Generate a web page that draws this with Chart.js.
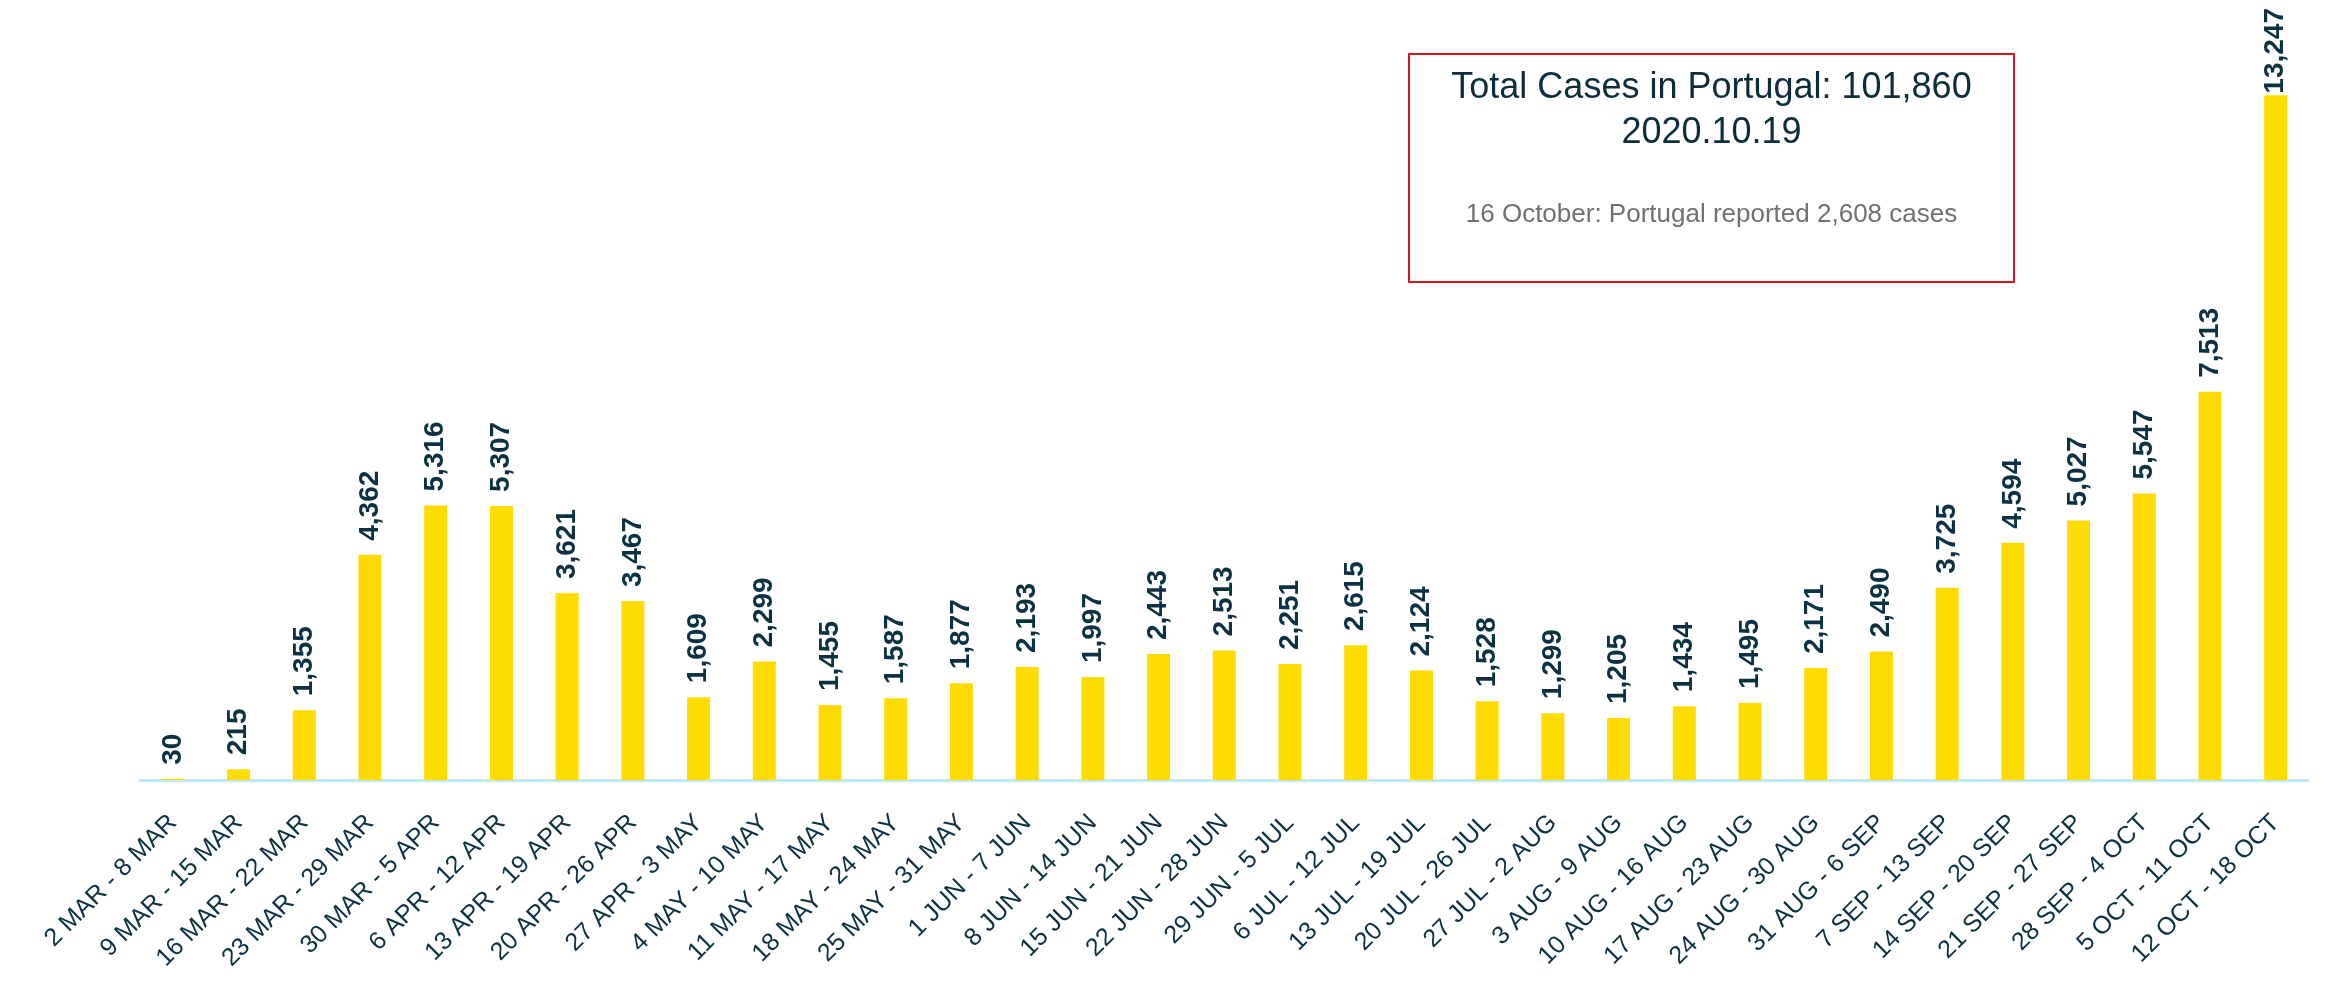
<!DOCTYPE html>
<html>
<head>
<meta charset="utf-8">
<script src="https://cdn.jsdelivr.net/npm/chart.js@4/dist/chart.umd.min.js"></script>
<style>
  html, body { margin: 0; padding: 0; background: #fff; }
  #wrap { position: relative; width: 2325px; height: 1005px; }
  #box {
    position: absolute; left: 1408px; top: 53px; width: 603px; height: 226px;
    border: 2px solid #d5161d; font-family: "Liberation Sans", Arial, sans-serif;
  }
  #box div { position: absolute; left: 0; right: 0; text-align: center; line-height: 1; white-space: nowrap; }
  .t1 { top: 13px; font-size: 36px; color: #0d2c3c; }
  .t2 { top: 58px; font-size: 36px; color: #0d2c3c; }
  .t3 { top: 145px; font-size: 26px; color: #707070; }
</style>
</head>
<body>
<div id="wrap">
  <canvas id="casesChart" width="2325" height="1005"></canvas>
  <div id="box">
    <div class="t1">Total Cases in Portugal: 101,860</div>
    <div class="t2">2020.10.19</div>
    <div class="t3">16 October: Portugal reported 2,608 cases</div>
  </div>
</div>
<script>
const weeks = [
  '2 MAR - 8 MAR', '9 MAR - 15 MAR', '16 MAR - 22 MAR', '23 MAR - 29 MAR',
  '30 MAR - 5 APR', '6 APR - 12 APR', '13 APR - 19 APR', '20 APR - 26 APR',
  '27 APR - 3 MAY', '4 MAY - 10 MAY', '11 MAY - 17 MAY', '18 MAY - 24 MAY',
  '25 MAY - 31 MAY', '1 JUN - 7 JUN', '8 JUN - 14 JUN', '15 JUN - 21 JUN',
  '22 JUN - 28 JUN', '29 JUN - 5 JUL', '6 JUL - 12 JUL', '13 JUL - 19 JUL',
  '20 JUL - 26 JUL', '27 JUL - 2 AUG', '3 AUG - 9 AUG', '10 AUG - 16 AUG',
  '17 AUG - 23 AUG', '24 AUG - 30 AUG', '31 AUG - 6 SEP', '7 SEP - 13 SEP',
  '14 SEP - 20 SEP', '21 SEP - 27 SEP', '28 SEP - 4 OCT', '5 OCT - 11 OCT',
  '12 OCT - 18 OCT'
];

const weeklyCases = [
  30, 215, 1355, 4362, 5316, 5307, 3621, 3467, 1609, 2299, 1455, 1587,
  1877, 2193, 1997, 2443, 2513, 2251, 2615, 2124, 1528, 1299, 1205, 1434,
  1495, 2171, 2490, 3725, 4594, 5027, 5547, 7513, 13247
];

const labelColor = '#0b3142';
const fontFamily = '"Liberation Sans", Arial, sans-serif';

// value labels written upwards above each bar
const barValues = {
  id: 'barValues',
  afterDatasetsDraw(chart) {
    const ctx = chart.ctx;
    const meta = chart.getDatasetMeta(0);
    ctx.save();
    ctx.font = 'bold 28px ' + fontFamily;
    ctx.fillStyle = labelColor;
    ctx.textAlign = 'left';
    ctx.textBaseline = 'middle';
    meta.data.forEach((bar, i) => {
      const text = weeklyCases[i].toLocaleString('en-US');
      const w = ctx.measureText(text).width;
      let start = bar.y - 14;
      if (start - w < 8) start = 8 + w;
      ctx.save();
      ctx.translate(bar.x, start);
      ctx.rotate(-Math.PI / 2);
      ctx.fillText(text, 0, 0);
      ctx.restore();
    });
    ctx.restore();
  }
};

const ctx = document.getElementById('casesChart').getContext('2d');
new Chart(ctx, {
  type: 'bar',
  data: {
    labels: weeks,
    datasets: [{
      label: 'Cases',
      data: weeklyCases,
      backgroundColor: '#ffdc00',
      borderWidth: 0,
      categoryPercentage: 1,
      barPercentage: 0.35
    }]
  },
  options: {
    responsive: false,
    animation: false,
    layout: { padding: { left: 140, right: 4, top: 0, bottom: 4 } },
    plugins: {
      legend: { display: false },
      tooltip: { enabled: false }
    },
    scales: {
      y: { display: false, min: 0, max: 15090 },
      x: {
        grid: { display: true, drawOnChartArea: false, drawTicks: false, color: 'transparent' },
        border: { display: true, color: '#bde8f7', width: 3 },
        ticks: {
          color: labelColor,
          font: { family: fontFamily, size: 25 },
          maxRotation: 45,
          minRotation: 45,
          padding: 28,
          autoSkip: false
        }
      }
    }
  },
  plugins: [barValues]
});
</script>
</body>
</html>
